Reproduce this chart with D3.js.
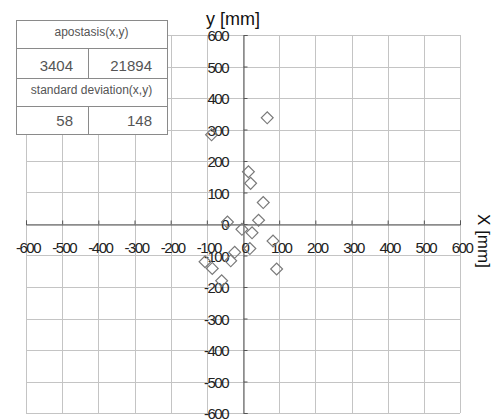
<!DOCTYPE html>
<html>
<head>
<meta charset="utf-8">
<script src="https://cdn.jsdelivr.net/npm/d3@7"></script>
<style>
  html, body { margin: 0; padding: 0; background: #fff; }
  svg { display: block; font-family: "Liberation Sans", Arial, sans-serif; }
</style>
</head>
<body>
<div id="chart"></div>
<script>
// scatter of (x, y) deviations in mm
const xValues = [67, -87, 15, 21, 56, -43, 43, -3, 25, 83, 19, -23, -34, -105, -85, 93, -59];
const yValues = [337, 283, 166, 129, 68, 6, 12, -17, -28, -54, -78, -90, -117, -120, -141, -143, -180];

const axisTicks = [-600, -500, -400, -300, -200, -100, 0, 100, 200, 300, 400, 500, 600];

const tableTitles = ['apostasis(x,y)', 'standard deviation(x,y)'];
const tableApostasis = [3404, 21894];
const tableStdDev = [58, 148];

const WIDTH = 496;
const HEIGHT = 420;

const svg = d3.select('#chart')
  .append('svg')
  .attr('width', WIDTH)
  .attr('height', HEIGHT);

const x = d3.scaleLinear().domain([-600, 600]).range([26, 460]);
const y = d3.scaleLinear().domain([-600, 600]).range([413, 35]);

// grid
const grid = svg.append('g').attr('stroke', '#c4c4c4').attr('stroke-width', 1);
grid.selectAll('line.v')
  .data(axisTicks)
  .join('line')
  .attr('class', 'v')
  .attr('x1', (d) => Math.round(x(d)) + 0.5)
  .attr('x2', (d) => Math.round(x(d)) + 0.5)
  .attr('y1', y(600))
  .attr('y2', y(-600));
grid.selectAll('line.h')
  .data(axisTicks)
  .join('line')
  .attr('class', 'h')
  .attr('y1', (d) => Math.round(y(d)) + 0.5)
  .attr('y2', (d) => Math.round(y(d)) + 0.5)
  .attr('x1', x(-600))
  .attr('x2', x(600));

// axes through the origin
const xAxis = d3.axisTop(x).tickValues(axisTicks).tickSize(4).tickFormat('');
const yAxis = d3.axisRight(y).tickValues(axisTicks).tickSize(4).tickFormat('');

svg.append('g')
  .attr('transform', `translate(0,${Math.round(y(0)) + 0.5})`)
  .call(xAxis)
  .call((g) => g.selectAll('path, line').attr('stroke', '#555'));
svg.append('g')
  .attr('transform', `translate(${Math.round(x(0)) + 0.5},0)`)
  .call(yAxis)
  .call((g) => g.selectAll('path, line').attr('stroke', '#555'));

// tick labels (narrow, Excel-like)
svg.append('g')
  .selectAll('text')
  .data(axisTicks)
  .join('text')
  .attr('x', (d) => x(d) + 2)
  .attr('y', y(0) + 29)
  .attr('text-anchor', 'middle')
  .attr('font-size', 15)
  .attr('letter-spacing', -1.5)
  .attr('fill', '#222')
  .text((d) => d);

svg.append('g')
  .selectAll('text')
  .data(axisTicks)
  .join('text')
  .attr('x', x(0) - 15)
  .attr('y', (d) => y(d) + 6)
  .attr('text-anchor', 'end')
  .attr('font-size', 15)
  .attr('letter-spacing', -1.5)
  .attr('fill', '#222')
  .text((d) => d);

// axis titles
svg.append('text')
  .attr('x', 206)
  .attr('y', 25)
  .attr('font-size', 18)
  .attr('fill', '#111')
  .text('y [mm]');

svg.append('text')
  .attr('transform', 'translate(478,241) rotate(90)')
  .attr('text-anchor', 'middle')
  .attr('font-size', 17)
  .attr('fill', '#111')
  .text('X [mm]');

// points
const points = xValues.map((v, i) => ({ x: v, y: yValues[i] }));
const diamond = d3.symbol().type(d3.symbolSquare).size(70);
svg.append('g')
  .selectAll('path')
  .data(points)
  .join('path')
  .attr('d', diamond)
  .attr('transform', (d) => `translate(${x(d.x)},${y(d.y)}) rotate(45)`)
  .attr('fill', 'none')
  .attr('stroke', '#7a7a7a')
  .attr('stroke-width', 1.2);

// summary table
const table = svg.append('g');
const tLeft = 16, tRight = 167, tMid = 88;
const rowTops = [20, 48, 78, 106, 134];

table.append('rect')
  .attr('x', tLeft + 0.5)
  .attr('y', rowTops[0] + 0.5)
  .attr('width', tRight - tLeft)
  .attr('height', rowTops[4] - rowTops[0])
  .attr('fill', '#fff')
  .attr('stroke', '#8a8a8a');

table.selectAll('line.row')
  .data(rowTops.slice(1, 4))
  .join('line')
  .attr('class', 'row')
  .attr('x1', tLeft)
  .attr('x2', tRight)
  .attr('y1', (d) => d + 0.5)
  .attr('y2', (d) => d + 0.5)
  .attr('stroke', '#8a8a8a');

table.selectAll('line.col')
  .data([[rowTops[1], rowTops[2]], [rowTops[3], rowTops[4]]])
  .join('line')
  .attr('class', 'col')
  .attr('x1', tMid + 0.5)
  .attr('x2', tMid + 0.5)
  .attr('y1', (d) => d[0])
  .attr('y2', (d) => d[1])
  .attr('stroke', '#8a8a8a');

table.selectAll('text.title')
  .data(tableTitles)
  .join('text')
  .attr('class', 'title')
  .attr('x', (tLeft + tRight) / 2)
  .attr('y', (d, i) => (i === 0 ? 36 : 94))
  .attr('text-anchor', 'middle')
  .attr('font-size', 12)
  .attr('fill', '#555')
  .text((d) => d);

const valueRows = [tableApostasis, tableStdDev];
valueRows.forEach((vals, r) => {
  table.selectAll(`text.val${r}`)
    .data(vals)
    .join('text')
    .attr('class', `val${r}`)
    .attr('x', (d, i) => (i === 0 ? tMid : tRight) - 15)
    .attr('y', r === 0 ? 71 : 126)
    .attr('text-anchor', 'end')
    .attr('font-size', 15)
    .attr('fill', '#555')
    .text((d) => d);
});
</script>
</body>
</html>
